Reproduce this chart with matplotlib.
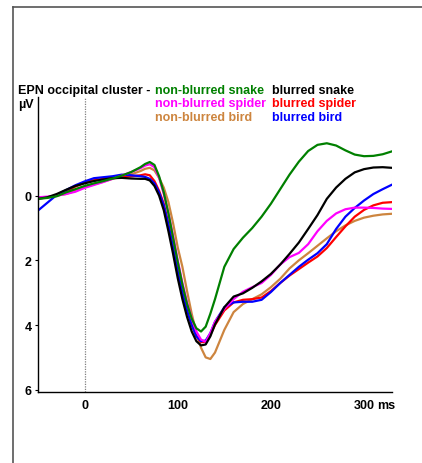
import numpy as np
import matplotlib
matplotlib.use("Agg")
import matplotlib.pyplot as plt
from matplotlib.lines import Line2D

plt.rcParams['font.family'] = ['Liberation Sans', 'DejaVu Sans']
plt.rcParams['font.weight'] = 'bold'

# time in ms, amplitude in microvolts (axis drawn negative up)
t = [-50, -40, -30, -20, -10, 0, 10, 20, 30, 40, 50, 60, 65, 70, 75, 80, 85, 90, 95,
     100, 105, 110, 115, 120, 125, 130, 135, 140, 150, 160, 170, 180, 190, 200, 210,
     220, 230, 240, 250, 260, 270, 280, 290, 300, 310, 320, 330]

nb_snake = [0.1, 0.07, 0.02, -0.1, -0.2, -0.3, -0.38, -0.45, -0.53, -0.62, -0.73, -0.88, -0.98,
            -1.04, -0.95, -0.6, -0.1, 0.55, 1.3, 2.05, 2.75, 3.35, 3.8, 4.1, 4.2, 4.05, 3.65,
            3.2, 2.2, 1.65, 1.3, 1.0, 0.65, 0.25, -0.2, -0.65, -1.05, -1.38, -1.57, -1.62,
            -1.55, -1.4, -1.27, -1.22, -1.23, -1.28, -1.37]
b_snake = [0.1, 0.05, -0.05, -0.18, -0.3, -0.38, -0.45, -0.5, -0.54, -0.55, -0.53, -0.52, -0.52,
           -0.47, -0.3, 0.0, 0.45, 1.1, 1.8, 2.55, 3.2, 3.75, 4.2, 4.5, 4.63, 4.6, 4.35, 3.98,
           3.45, 3.12, 3.02, 2.85, 2.65, 2.42, 2.13, 1.8, 1.45, 1.03, 0.6, 0.1, -0.25, -0.52,
           -0.72, -0.82, -0.87, -0.88, -0.86]
nb_spider = [0.05, 0.03, 0.0, -0.05, -0.12, -0.24, -0.33, -0.42, -0.52, -0.62, -0.73, -0.85,
             -0.93, -0.97, -0.88, -0.55, -0.05, 0.55, 1.25, 2.0, 2.7, 3.3, 3.8, 4.2, 4.45, 4.52,
             4.25, 3.9, 3.5, 3.2, 2.97, 2.83, 2.7, 2.45, 2.13, 1.9, 1.77, 1.5, 1.1, 0.78, 0.55,
             0.42, 0.37, 0.37, 0.38, 0.4, 0.41]
b_spider = [0.07, 0.05, 0.0, -0.12, -0.28, -0.4, -0.48, -0.52, -0.56, -0.58, -0.6, -0.63, -0.66,
            -0.63, -0.45, -0.15, 0.25, 0.85, 1.55, 2.3, 2.95, 3.5, 3.98, 4.35, 4.53, 4.52, 4.3,
            4.0, 3.55, 3.3, 3.22, 3.2, 3.15, 2.95, 2.7, 2.47, 2.27, 2.07, 1.88, 1.62, 1.28,
            0.95, 0.65, 0.44, 0.3, 0.22, 0.2]
nb_bird = [0.07, 0.05, 0.0, -0.05, -0.15, -0.27, -0.35, -0.43, -0.52, -0.58, -0.66, -0.76, -0.83,
           -0.86, -0.78, -0.55, -0.25, 0.2, 0.85, 1.6, 2.2, 2.95, 3.65, 4.25, 4.7, 5.0, 5.05,
           4.85, 4.15, 3.6, 3.35, 3.2, 3.05, 2.83, 2.57, 2.25, 2.0, 1.78, 1.55, 1.32, 1.1,
           0.92, 0.78, 0.68, 0.62, 0.58, 0.56]
b_bird = [0.46, 0.22, -0.02, -0.17, -0.32, -0.44, -0.54, -0.57, -0.6, -0.65, -0.63, -0.6, -0.58,
          -0.52, -0.38, -0.1, 0.3, 0.9, 1.6, 2.35, 3.0, 3.55, 4.0, 4.35, 4.5, 4.48, 4.25, 3.9,
          3.45, 3.3, 3.28, 3.28, 3.22, 2.98, 2.7, 2.45, 2.2, 1.98, 1.78, 1.5, 1.03, 0.65,
          0.38, 0.15, -0.05, -0.2, -0.34]

series = [
    ("non-blurred bird", nb_bird, "peru"),
    ("blurred spider", b_spider, "red"),
    ("blurred bird", b_bird, "blue"),
    ("non-blurred spider", nb_spider, "magenta"),
    ("blurred snake", b_snake, "black"),
    ("non-blurred snake", nb_snake, "green"),
]

fig = plt.figure(figsize=(4.22, 4.64), dpi=100)
ax = fig.add_axes([38 / 422, 1 - 393 / 464, (392 - 38) / 422, (393 - 98) / 464])

ax.axvline(0, color="gray", lw=0.9, ls=(0, (1, 1)))
for name, vals, col in series:
    ax.plot(t, vals, color=col, lw=1.6, solid_joinstyle="round")

ax.set_xlim(-50, 330)
ax.set_ylim(6.07, -3.05)
ax.spines["top"].set_visible(False)
ax.spines["right"].set_visible(False)
ax.spines["left"].set_linewidth(1.0)
ax.spines["bottom"].set_linewidth(1.0)
ax.set_yticks([0, 2, 4, 6])
ax.set_xticks([0, 100, 200, 300])
fs = 9.0
ax.tick_params(axis="y", length=2.5, width=0.8, pad=2, labelsize=fs)
ax.tick_params(axis="x", length=0, pad=5, labelsize=fs)
for lab in ax.get_xticklabels() + ax.get_yticklabels():
    lab.set_fontweight("bold")
ax.annotate("ms", xy=(300, 0), xycoords=("data", "axes fraction"), xytext=(9.5, -5),
            textcoords="offset points", ha="left", va="top", fontsize=fs, fontweight="bold")

# header and colour legend
fig.text(18 / 422, 1 - 91 / 464, "EPN occipital cluster -", fontsize=fs, fontweight="bold",
         va="center", ha="left")
fig.text(18 / 422, 1 - 105 / 464, "µV", fontsize=fs, fontweight="bold", va="center", ha="left")
legend_rows = [("non-blurred snake", "green", "blurred snake", "black"),
               ("non-blurred spider", "magenta", "blurred spider", "red"),
               ("non-blurred bird", "peru", "blurred bird", "blue")]
for i, (n1, c1, n2, c2) in enumerate(legend_rows):
    yy = 1 - (91 + i * 13.4) / 464
    fig.text(155 / 422, yy, n1, color=c1, fontsize=fs, fontweight="bold", va="center")
    fig.text(272 / 422, yy, n2, color=c2, fontsize=fs, fontweight="bold", va="center")

# outer frame (left and top edges)
fig.add_artist(Line2D([12.5 / 422, 12.5 / 422], [0, 1 - 7.5 / 464], color="#555555", lw=1.2,
                      transform=fig.transFigure))
fig.add_artist(Line2D([12.5 / 422, 0.999], [1 - 7.5 / 464, 1 - 7.5 / 464], color="#555555", lw=1.2,
                      transform=fig.transFigure))

fig.savefig("out.png", dpi=100)
